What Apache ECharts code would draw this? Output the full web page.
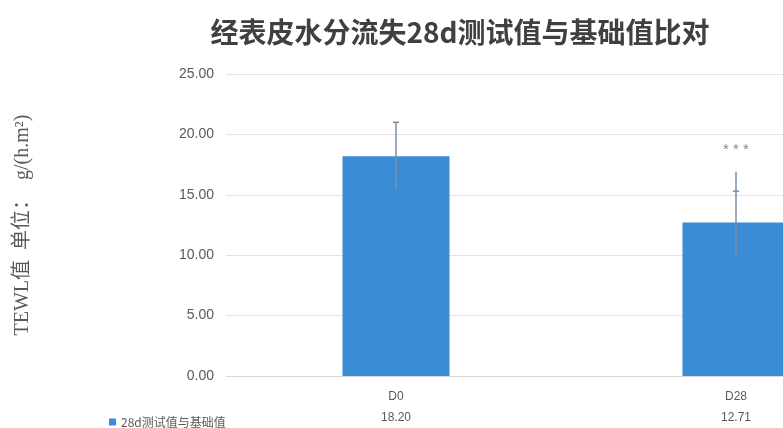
<!DOCTYPE html>
<html><head><meta charset="utf-8">
<script src="https://cdn.jsdelivr.net/npm/echarts@6/dist/echarts.min.js"></script>
<style>html,body{margin:0;padding:0;background:#fff;overflow:hidden;width:783px;height:428px}#c{width:1000px;height:428px}</style>
</head><body><div id="c"></div>
<script>
var categories = ['D0', 'D28'];
var seriesName = '28d测试值与基础值';
var values = [18.20, 12.71];
var valueLabels = ['18.20', '12.71'];
var errorLow = [15.4, 10.0];
var errorHigh = [21.0, 15.3];
var errorLineTop = [21.0, 16.9];
var sigMarks = ['', '* * *'];
var yTicks = [0, 5, 10, 15, 20, 25];

var chart = echarts.init(document.getElementById('c'));
var grey = '#595959';
var font = '"Liberation Sans","Noto Sans CJK SC",sans-serif';
chart.setOption({
  animation: false,
  backgroundColor: '#ffffff',
  title: {
    text: '经表皮水分流失28d测试值与基础值比对',
    left: 455, top: 13, textAlign: 'center',
    textStyle: {fontSize: 28, fontWeight: 'bold', color: '#404040', fontFamily: '"Noto Sans CJK SC",sans-serif'}
  },
  legend: {
    data: [seriesName], left: 104, top: 411, icon: 'rect', itemWidth: 7, itemHeight: 7,
    textStyle: {fontSize: 12, color: grey, fontFamily: '"Noto Sans CJK SC",sans-serif'}
  },
  grid: {left: 226, width: 680, top: 74, bottom: 52},
  xAxis: [{
    type: 'category', data: categories, position: 'bottom',
    axisLine: {show: true, lineStyle: {color: '#d9d9d9'}}, axisTick: {show: false},
    axisLabel: {fontSize: 12, color: grey, margin: 15, fontFamily: font}
  }, {
    type: 'category', data: valueLabels, position: 'bottom', offset: 21,
    axisLine: {show: false}, axisTick: {show: false},
    axisLabel: {fontSize: 12, color: grey, margin: 15, fontFamily: font}
  }],
  yAxis: {
    type: 'value', min: yTicks[0], max: yTicks[yTicks.length - 1], interval: 5,
    name: 'TEWL值  单位：  g/(h.m²)', nameLocation: 'middle', nameGap: 193,
    nameTextStyle: {fontSize: 20, color: grey, fontFamily: '"Liberation Serif","Noto Sans CJK SC",serif'},
    axisLine: {show: false}, axisTick: {show: false},
    axisLabel: {fontSize: 14, color: grey, margin: 12, fontFamily: font, formatter: function (v) { return v.toFixed(2); }},
    splitLine: {lineStyle: {color: '#e3e3e3'}}
  },
  series: [{
    name: seriesName, type: 'bar', data: values, barWidth: 107,
    itemStyle: {color: '#3a8dd4'}
  }, {
    type: 'custom', name: 'err', silent: true, z: 5,
    data: categories.map(function (c, i) { return [i, errorLow[i], errorHigh[i], errorLineTop[i]]; }),
    renderItem: function (params, api) {
      var x = api.value(0);
      var lo = api.coord([x, api.value(1)]);
      var hi = api.coord([x, api.value(2)]);
      var top = api.coord([x, api.value(3)]);
      var st = {stroke: '#7b8fa3', lineWidth: 1.5};
      var children = [
        {type: 'line', shape: {x1: lo[0], y1: lo[1], x2: top[0], y2: top[1]}, style: st},
        {type: 'line', shape: {x1: hi[0] - 3, y1: hi[1], x2: hi[0] + 3, y2: hi[1]}, style: st}
      ];
      var mark = sigMarks[params.dataIndex];
      if (mark) {
        children.push({type: 'text', x: top[0], y: top[1] - 22,
          style: {text: mark, fill: '#7b8a99', align: 'center', verticalAlign: 'middle', font: '15px "Liberation Sans", sans-serif'}});
      }
      return {type: 'group', children: children};
    }
  }]
});
</script></body></html>
